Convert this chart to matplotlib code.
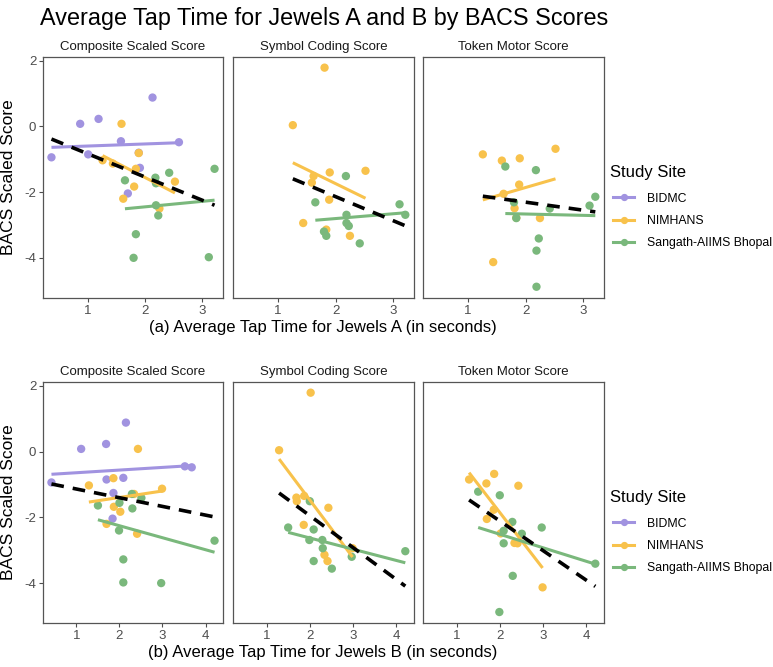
import numpy as np
import matplotlib
matplotlib.use("Agg")
import matplotlib.pyplot as plt
from matplotlib.lines import Line2D

plt.rcParams['font.family'] = ['Liberation Sans', 'DejaVu Sans']

sites = ["BIDMC", "NIMHANS", "Sangath-AIIMS Bhopal"]
colors = ["#A193E0", "#F8C24C", "#7AB87C"]
panel_titles = ["Composite Scaled Score", "Symbol Coding Score", "Token Motor Score"]
nan = np.nan

# BIDMC
bidmc_tapA = [0.37, 0.87, 1.19, 1.01, 1.58, 2.59, 1.89, 1.91, 1.70, 2.13]
bidmc_tapB = [0.42, 1.11, 1.69, 1.70, 3.52, 3.68, 2.09, 1.86, 1.84, 2.15]
bidmc_comp = [-0.94, 0.08, 0.23, -0.85, -0.45, -0.48, -0.80, -1.26, -2.04, 0.88]
bidmc_sym = [nan] * 10
bidmc_tok = [nan] * 10

# NIMHANS
nimhans_tapA = [1.26, 1.44, 1.59, 1.62, 1.81, 1.84, 1.89, 1.90, 2.25, 2.52]
nimhans_tapB = [1.29, 2.99, 2.43, 1.70, 2.02, 2.34, 1.86, 1.69, 2.41, 1.87]
nimhans_comp = [-1.03, -1.13, 0.08, -2.20, -1.83, -1.29, -0.81, nan, -2.50, -1.68]
nimhans_sym = [0.04, -2.94, -1.71, -1.51, 1.79, -3.14, -2.23, -1.40, -3.33, -1.35]
nimhans_tok = [-0.85, -4.13, -1.04, -2.05, -2.49, -2.78, -1.77, -0.97, -2.79, -0.68]

# Sangath-AIIMS Bhopal
sangath_tapA = [1.65, 2.18, 2.19, 2.42, 3.21, 2.19, 2.23, 1.84, 1.80, 3.11]
sangath_tapB = [1.50, 2.00, 2.30, 2.51, 2.29, 1.99, 4.21, 2.09, 2.97, 2.09]
sangath_comp = [-1.64, -1.56, -1.73, -1.41, -1.29, -2.40, -2.71, -3.28, -4.00, -3.98]
sangath_sym = [-2.31, -1.51, -2.94, -3.56, -2.69, -2.69, -3.03, -3.33, -3.20, -2.37]
sangath_tok = [-1.22, -1.33, -3.78, -2.50, -2.14, -4.88, -3.41, -2.79, -2.31, -2.41]

tapA = [bidmc_tapA, nimhans_tapA, sangath_tapA]
tapB = [bidmc_tapB, nimhans_tapB, sangath_tapB]
scores = [[bidmc_comp, bidmc_sym, bidmc_tok],
          [nimhans_comp, nimhans_sym, nimhans_tok],
          [sangath_comp, sangath_sym, sangath_tok]]

W, H = 773, 667
fig = plt.figure(figsize=(W / 100, H / 100), dpi=100)

def px_axes(x0, y0, x1, y1):
    return fig.add_axes([x0 / W, 1 - y1 / H, (x1 - x0) / W, (y1 - y0) / H])

cols = [(43.3, 222.7), (233.3, 413.5), (423.3, 603.5)]
rows = [(56.7, 297.7), (381.7, 623.0)]
xlabels = ["(a) Average Tap Time for Jewels A (in seconds)",
           "(b) Average Tap Time for Jewels B (in seconds)"]
tick_col = "#4D4D4D"

all_y = np.concatenate([np.array(s[k], float) for s in scores for k in range(3)])
ymin, ymax = np.nanmin(all_y), np.nanmax(all_y)
yr = ymax - ymin
ylim = (ymin - 0.05 * yr, ymax + 0.05 * yr)

def fit_line(ax, x, y, **kw):
    x = np.asarray(x, float); y = np.asarray(y, float)
    m = ~np.isnan(x) & ~np.isnan(y)
    if m.sum() < 2:
        return
    b1, b0 = np.polyfit(x[m], y[m], 1)
    xs = np.linspace(x[m].min(), x[m].max(), 50)
    ax.plot(xs, b0 + b1 * xs, **kw)

for r, (taps, xt) in enumerate([(tapA, [1, 2, 3]), (tapB, [1, 2, 3, 4])]):
    xall = np.concatenate([np.array(t, float) for t in taps])
    xmin, xmax = np.nanmin(xall), np.nanmax(xall)
    xr = xmax - xmin
    xlim = (xmin - 0.05 * xr, xmax + 0.05 * xr)
    for c in range(3):
        ax = px_axes(cols[c][0], rows[r][0], cols[c][1], rows[r][1])
        allx, ally = [], []
        for s in range(3):
            x = np.array(taps[s], float)
            y = np.array(scores[s][c], float)
            m = ~np.isnan(y)
            ax.scatter(x[m], y[m], s=36, color=colors[s], edgecolors='none', zorder=3)
            allx.extend(x[m]); ally.extend(y[m])
        for s in range(3):
            fit_line(ax, taps[s], scores[s][c], color=colors[s], lw=2.2, zorder=4,
                     solid_capstyle='butt')
        fit_line(ax, allx, ally, color='black', lw=2.6, ls=(0, (3.5, 2.5)), zorder=5)
        ax.set_xlim(*xlim)
        ax.set_ylim(*ylim)
        ax.set_xticks(xt)
        ax.set_yticks([-4, -2, 0, 2])
        ax.set_yticklabels(["-4", "-2", "0", "2"])
        ax.tick_params(colors=tick_col, labelcolor=tick_col, labelsize=9.5,
                       length=3, width=0.8, direction='out', pad=2)
        for sp in ax.spines.values():
            sp.set_color("#555555")
            sp.set_linewidth(0.9)
        if c > 0:
            ax.set_yticklabels([])
            ax.tick_params(axis='y', length=0)
        ax.set_title(panel_titles[c], fontsize=9.5, color='#1A1A1A', pad=5)
        if c == 0:
            ax.set_ylabel("BACS Scaled Score", fontsize=12.5, labelpad=6)
    fig.text(323 / W, 1 - (rows[r][1] + 30) / H, xlabels[r], ha='center', va='center',
             fontsize=12)

    # legend
    ly = rows[r][0] + 116
    fig.text(610 / W, 1 - ly / H, "Study Site", fontsize=12, va='center', ha='left')
    handles = [Line2D([0], [0], color=colors[s], lw=2.2, marker='o', markersize=4.2)
               for s in range(3)]
    fig.legend(handles, sites, loc='upper left',
               bbox_to_anchor=(613 / W, 1 - (ly + 20) / H), frameon=False,
               fontsize=8.8, handlelength=1.75, handletextpad=1.05,
               labelspacing=0.85, borderaxespad=0, borderpad=0)

fig.suptitle("Average Tap Time for Jewels A and B by BACS Scores", x=324 / W, y=1 - 18 / H,
             fontsize=16.8, va='center')

fig.savefig("out.png", dpi=100)
